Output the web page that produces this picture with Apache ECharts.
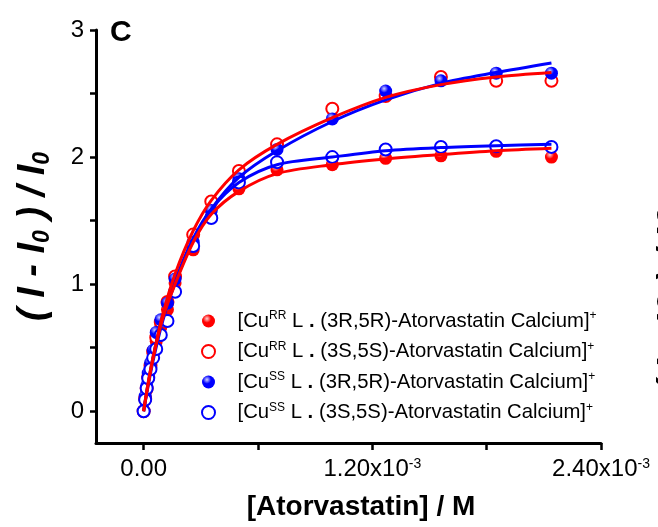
<!DOCTYPE html>
<html>
<head>
<meta charset="utf-8">
<script src="https://cdn.jsdelivr.net/npm/echarts@6/dist/echarts.min.js"></script>
<style>
html,body{margin:0;padding:0;background:#fff;}
#chart{width:658px;height:527px;}
</style>
</head>
<body>
<div id="chart"></div>
<script>
// ---- data (concentration in M) ----
const conc = [0, 8e-6, 1.6e-5, 2.4e-5, 3.6e-5, 5.0e-5, 6.6e-5, 9.0e-5, 1.25e-4, 1.65e-4, 2.6e-4, 3.55e-4, 5.0e-4, 7.0e-4, 9.9e-4, 1.27e-3, 1.56e-3, 1.85e-3, 2.14e-3];
const rr_3R5R = [0, 0.09, 0.17, 0.26, 0.35, 0.45, 0.55, 0.66, 0.80, 1.01, 1.27, 1.53, 1.75, 1.90, 1.94, 1.99, 2.01, 2.045, 2.00];
const rr_3S5S = [0, 0.10, 0.18, 0.27, 0.36, 0.47, 0.58, 0.70, 0.86, 1.06, 1.39, 1.65, 1.89, 2.10, 2.38, 2.48, 2.63, 2.60, 2.60];
const ss_3R5R = [0, 0.12, 0.20, 0.30, 0.38, 0.48, 0.62, 0.72, 0.85, 1.04, 1.33, 1.58, 1.83, 2.06, 2.30, 2.52, 2.60, 2.66, 2.66];
const ss_3S5S = [0, 0.09, 0.18, 0.26, 0.33, 0.42, 0.49, 0.60, 0.71, 0.94, 1.30, 1.52, 1.80, 1.96, 2.00, 2.06, 2.08, 2.085, 2.08];

// fitted curves
const fitConc = [0, 2.0e-5, 5.0e-5, 1.0e-4, 1.65e-4, 2.6e-4, 3.55e-4, 5.0e-4, 7.0e-4, 9.9e-4, 1.27e-3, 1.56e-3, 1.85e-3, 2.14e-3];
const fit_rr_3R5R = [0, 0.18, 0.42, 0.73, 1.00, 1.33, 1.55, 1.73, 1.87, 1.94, 1.985, 2.02, 2.05, 2.07];
const fit_rr_3S5S = [0, 0.19, 0.43, 0.76, 1.08, 1.42, 1.66, 1.90, 2.10, 2.31, 2.47, 2.57, 2.63, 2.665];
const fit_ss_3R5R = [0, 0.17, 0.40, 0.71, 1.01, 1.34, 1.59, 1.84, 2.05, 2.28, 2.45, 2.58, 2.665, 2.74];
const fit_ss_3S5S = [0, 0.19, 0.43, 0.75, 1.03, 1.36, 1.59, 1.80, 1.94, 2.00, 2.05, 2.075, 2.09, 2.10];

const xTicks = [0, 0.6e-3, 1.2e-3, 1.8e-3, 2.4e-3];
const xLabels = [0, 1.2e-3, 2.4e-3];
const yTicks = [0, 0.5, 1, 1.5, 2, 2.5, 3];
const yLabels = [0, 1, 2, 3];

const seriesNames = ['RR_3R5R', 'RR_3S5S', 'SS_3R5R', 'SS_3S5S'];
const legendText = {
  RR_3R5R: '[Cu{sup|RR} L {dot|.} (3R,5R)-Atorvastatin Calcium]{sup|+}',
  RR_3S5S: '[Cu{sup|RR} L {dot|.} (3S,5S)-Atorvastatin Calcium]{sup|+}',
  SS_3R5R: '[Cu{sup|SS} L {dot|.} (3R,5R)-Atorvastatin Calcium]{sup|+}',
  SS_3S5S: '[Cu{sup|SS} L {dot|.} (3S,5S)-Atorvastatin Calcium]{sup|+}'
};

const FONT = 'Liberation Sans, Arial, sans-serif';
const RED = '#ff0000';
const BLUE = '#0000ff';

function pairs(xs, ys) { return xs.map((x, i) => [x, ys[i]]); }
function ball(c, light) {
  return { type: 'radial', x: 0.38, y: 0.32, r: 0.7,
    colorStops: [{offset: 0, color: light}, {offset: 0.45, color: c}, {offset: 1, color: c}] };
}

const chart = echarts.init(document.getElementById('chart'), null, {renderer: 'canvas'});

const scatterBase = { type: 'scatter', z: 3 };
const fitBase = { type: 'line', smooth: 0.3, showSymbol: false, symbol: 'none' };
const option = {
  animation: false,
  backgroundColor: '#fff',
  title: { text: 'C', left: 105, top: 13, textStyle: { fontFamily: FONT, fontSize: 30, fontWeight: 'bold', color: '#000' } },
  grid: { left: 96, right: 57, top: 30, bottom: 84, containLabel: false },
  legend: {
    orient: 'vertical', left: 196, top: 305,
    data: seriesNames,
    itemWidth: 48, itemHeight: 13, itemGap: 8.5,
    formatter: n => legendText[n],
    textStyle: {
      fontFamily: FONT, fontSize: 20.3, color: '#000', lineHeight: 22,
      rich: {
        sup: { fontFamily: FONT, fontSize: 12, color: '#000', verticalAlign: 'top', lineHeight: 12 },
        dot: { fontFamily: FONT, fontSize: 20.3, fontWeight: 'bold', color: '#000' }
      }
    }
  },
  xAxis: {
    type: 'value', min: -0.25e-3, max: 2.4e-3,
    axisLine: { show: true, onZero: false, lineStyle: { color: '#000', width: 3 } },
    axisTick: { show: true, inside: false, length: 7, customValues: xTicks, lineStyle: { color: '#000', width: 2.5 } },
    axisLabel: {
      customValues: xLabels, margin: 14, color: '#000', fontFamily: FONT, fontSize: 24,
      formatter: v => Math.abs(v) < 1e-12 ? '0.00' : (v * 1e3).toFixed(2) + 'x10{sup|-3}',
      rich: { sup: { fontFamily: FONT, fontSize: 14, color: '#000', verticalAlign: 'top', lineHeight: 14 } }
    },
    splitLine: { show: false },
    name: '[Atorvastatin] / M', nameLocation: 'middle', nameGap: 50,
    nameTextStyle: { fontFamily: FONT, fontSize: 28, fontWeight: 'bold', color: '#000', padding: [0, 0, 0, 25] }
  },
  yAxis: {
    type: 'value', min: -0.25, max: 3,
    axisLine: { show: true, onZero: false, lineStyle: { color: '#000', width: 3 } },
    axisTick: { show: true, inside: false, length: 6, customValues: yTicks, lineStyle: { color: '#000', width: 2.5 } },
    axisLabel: { customValues: yLabels, margin: 12, color: '#000', fontFamily: FONT, fontSize: 24 },
    splitLine: { show: false },
    name: '( I - I{s|0} ) / I{s|0}', nameLocation: 'middle', nameRotate: 90, nameGap: 42,
    nameTextStyle: {
      fontFamily: FONT, fontSize: 38, fontWeight: 'bold', fontStyle: 'italic', color: '#000', lineHeight: 40,
      rich: { s: { fontFamily: FONT, fontSize: 23, fontWeight: 'bold', fontStyle: 'italic', color: '#000', verticalAlign: 'bottom', lineHeight: 22 } }
    }
  },
  graphic: [{
    type: 'text', x: 674, y: 300, rotation: Math.PI / 2,
    style: { text: '( I - I0 ) / I0', fontFamily: FONT, fontSize: 38, fontWeight: 'bold', fontStyle: 'italic', fill: '#000', align: 'center', verticalAlign: 'middle' }
  }],
  series: [
    Object.assign({}, scatterBase, { name: 'RR_3R5R', data: pairs(conc, rr_3R5R), symbol: 'circle', symbolSize: 13,
      itemStyle: { color: ball(RED, '#ffd0d0'), opacity: 1 } }),
    Object.assign({}, scatterBase, { name: 'RR_3S5S', data: pairs(conc, rr_3S5S), symbol: 'emptyCircle', symbolSize: 12,
      itemStyle: { color: RED, borderColor: RED, borderWidth: 2.2, opacity: 1 } }),
    Object.assign({}, scatterBase, { name: 'SS_3R5R', data: pairs(conc, ss_3R5R), symbol: 'circle', symbolSize: 13,
      itemStyle: { color: ball(BLUE, '#d0d0ff'), opacity: 1 } }),
    Object.assign({}, scatterBase, { name: 'SS_3S5S', data: pairs(conc, ss_3S5S), symbol: 'emptyCircle', symbolSize: 12,
      itemStyle: { color: BLUE, borderColor: BLUE, borderWidth: 2.2, opacity: 1 } }),
    Object.assign({}, fitBase, { name: 'fit_ss_3R5R', data: pairs(fitConc, fit_ss_3R5R), z: 4, lineStyle: { color: BLUE, width: 3 }, itemStyle: {color: BLUE} }),
    Object.assign({}, fitBase, { name: 'fit_ss_3S5S', data: pairs(fitConc, fit_ss_3S5S), z: 4, lineStyle: { color: BLUE, width: 3 }, itemStyle: {color: BLUE} }),
    Object.assign({}, fitBase, { name: 'fit_rr_3R5R', data: pairs(fitConc, fit_rr_3R5R), z: 5, lineStyle: { color: RED, width: 3 }, itemStyle: {color: RED} }),
    Object.assign({}, fitBase, { name: 'fit_rr_3S5S', data: pairs(fitConc, fit_rr_3S5S), z: 5, lineStyle: { color: RED, width: 3 }, itemStyle: {color: RED} })
  ]
};
chart.setOption(option);
</script>
</body>
</html>
